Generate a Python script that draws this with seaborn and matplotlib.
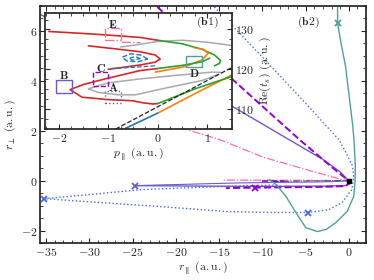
import matplotlib
matplotlib.use('Agg')
import matplotlib.pyplot as plt
import seaborn as sns
from matplotlib.ticker import MultipleLocator, FuncFormatter
from matplotlib.patches import Rectangle

# --- main panel (b2): r_par vs r_perp trajectories ---
teal_x = [-1.3, -1.3, -0.9, -0.38, 0.1, 0.45, 0.6, 0.75, 0.72, 0.57, -0.19, -1.53, -2.6, -3.6, -4.97, -6.1, -7.27, -8.4, -9.2]
teal_y = [7.3, 6.3, 5.5, 4.57, 3.2, 2.2, 1.6, 0.6, 0.0, -0.63, -1.23, -1.69, -1.95, -2.04, -1.89, -1.29, -0.63, -0.16, 0.04]

dot_x = [-16.5, -10, -5, -1.15, -0.3, 0.4, 0.57, 0.35, -0.8, -2.3, -4.7, -10, -14, -21.8, -30, -35.2, -30, -24, -15, -8]
dot_y = [7.3, 4.95, 3.1, 1.64, 1.1, 0.6, 0.16, -0.36, -0.88, -1.16, -1.28, -1.27, -1.24, -1.04, -0.85, -0.72, -0.56, -0.36, -0.24, -0.17]

slate_x = [-36.5, -25, -13.4, -6.9, -3, -1.0, -0.2, 0.1, -0.3, -3, -12.6, -24.7]
slate_y = [6.8, 4.8, 2.96, 1.64, 0.85, 0.35, 0.05, -0.12, -0.2, -0.22, -0.23, -0.2]
slate2_x = [-24.7, -12.6, -3, -0.5, 0]
slate2_y = [-0.2, -0.09, -0.05, -0.02, 0]

purple_x = [-23, -13.4, -5.7, -2, -0.4, 0.05, -0.4, -3, -8, -10.8, -14.2]
purple_y = [7.25, 4.04, 1.64, 0.55, 0.1, -0.1, -0.22, -0.25, -0.27, -0.28, -0.3]
purple2_x = [-10.0, -7.5]
purple2_y = [-0.03, -0.03]

pink_x = [-21, -18.7, -14.9, -10, -5, -0.8, 0, -5, -14.7]
pink_y = [2.3, 2.04, 1.64, 0.95, 0.45, 0.04, 0, 0.01, 0.02]

black_x = [-8.8, 0]
black_y = [-0.03, 0]

# end points (x markers)
mark_x = [-1.3, -35.2, -4.7, -24.7, -10.8]
mark_y = [6.3, -0.72, -1.28, -0.2, -0.28]
mark_c = ['#4f9e9b', '#4169e1', '#4169e1', '#6a5acd', '#9400d3']

# --- inset (b1): p_par vs Re(t_s) ---
red_top_p = [-2.2, -1.5, -1.0, -0.35, 0.0]
red_top_t = [129.5, 129.0, 128.6, 128.0, 127.3]
green_top_p = [0.0, 0.5, 0.9, 1.15, 1.27, 1.25]
green_top_t = [127.3, 126.4, 125.0, 123.6, 122.2, 121.5]
green_tail_p = [1.25, 1.12]
green_tail_t = [121.5, 120.7]
gray_top_p = [-0.75, -0.35, 0.0, 0.5, 1.0, 1.55]
gray_top_t = [125.6, 126.3, 127.0, 127.3, 126.8, 125.9]
red_mid_p = [-1.4, -0.9, -0.35, -0.05, 0.05, -0.05, -0.35, -0.7, -1.0]
red_mid_t = [125.9, 125.2, 124.4, 123.6, 122.6, 121.8, 121.1, 120.5, 120.0]
loop_p = [-0.2, -0.35, -0.55, -0.72, -0.62, -0.4, -0.2]
loop_t = [122.6, 123.6, 123.9, 123.0, 122.1, 121.9, 122.6]
loop2_p = [-0.35, -0.45, -0.58, -0.5, -0.35]
loop2_t = [122.7, 123.2, 122.8, 122.3, 122.7]
bdash_p = [-0.95, -0.5, -0.05]
bdash_t = [120.2, 120.5, 120.9]
red_big_p = [0.0, -0.35, -1.06, -1.5, -1.77, -1.53, -1.0, -0.5, -0.3, -0.1, 0.0]
red_big_t = [120.2, 119.7, 117.6, 116.2, 114.9, 113.0, 112.4, 112.1, 111.6, 111.3, 111.4]
green_mid_p = [0.0, 0.5, 0.9, 1.05]
green_mid_t = [120.2, 121.0, 121.9, 122.8]
orange_mid_p = [-0.05, 0.56, 0.9, 1.02, 0.93]
orange_mid_t = [119.3, 120.7, 122.4, 124.0, 125.0]
orange_tail_p = [0.93, 0.72]
orange_tail_t = [125.0, 125.5]
green_low_p = [0.0, 0.8, 1.5]
green_low_t = [111.4, 115.3, 118.2]
orange_low_p = [0.0, 0.8, 1.5]
orange_low_t = [109.0, 114.2, 118.6]
blue_low_p = [-0.65, 0.0]
blue_low_t = [105.2, 109.0]
kdash_p = [-0.85, 1.55]
kdash_t = [105.0, 120.8]
gray_b_p = [1.3, 1.1, 0.3, -0.35, -1.0, -1.4, -1.2, -0.8, -0.45, 0.2, 0.9, 1.2]
gray_b_t = [119.2, 119.3, 118.4, 117.6, 116.6, 115.1, 114.2, 113.6, 113.6, 115.4, 117.2, 118.6]
pink_in_p = [-0.72, -0.35]
pink_in_t = [126.8, 126.7]

box_names = ['A', 'B', 'C', 'D', 'E']
box_p0 = [-1.06, -2.05, -1.3, 0.58, -1.06]
box_p1 = [-0.74, -1.74, -1.0, 0.9, -0.74]
box_t0 = [111.6, 114.0, 115.9, 120.5, 127.4]
box_t1 = [114.5, 117.2, 119.25, 123.4, 130.25]
box_label_t = [115.4, 118.4, 120.3, 119.0, 131.3]

TEAL, BLUE, SLATE, PURPLE, PINK = '#4f9e9b', '#4169e1', '#6a5acd', '#9400d3', '#ff69b4'
RED, GREEN, ORANGE, TBLUE, GRAY = '#d62728', '#2ca02c', '#ff7f0e', '#1f77b4', '#a9a9a9'


def curve(ax, xs, ys, color, ls='-', lw=1.0, z=2):
    sns.lineplot(x=xs, y=ys, sort=False, estimator=None, color=color,
                 linestyle=ls, linewidth=lw, ax=ax, zorder=z)


def main():
    sns.set_theme(style='ticks')
    plt.rcParams['font.family'] = ['DejaVu Serif']
    plt.rcParams['mathtext.fontset'] = 'cm'
    fmt = FuncFormatter(lambda v, pos: f'${v:g}$')

    fig = plt.figure(figsize=(3.74, 2.80), dpi=100)
    ax = fig.add_axes([0.107, 0.132, 0.872, 0.847])

    curve(ax, dot_x, dot_y, BLUE, ':', 1.0)
    curve(ax, pink_x, pink_y, PINK, '-.', 0.9)
    curve(ax, black_x, black_y, '#333333', '-.', 0.7)
    curve(ax, slate_x, slate_y, SLATE, '-', 1.0)
    curve(ax, slate2_x, slate2_y, SLATE, '-', 0.8)
    curve(ax, purple_x, purple_y, PURPLE, '--', 1.4)
    curve(ax, purple2_x, purple2_y, PURPLE, '--', 1.2)
    curve(ax, teal_x, teal_y, TEAL, '-', 1.0)
    for x, y, c in zip(mark_x, mark_y, mark_c):
        ax.plot(x, y, marker='x', color=c, ms=4, mew=1.3, zorder=4)
    ax.plot(0, 0, marker='s', color='black', ms=3.2, zorder=5)

    ax.set_xlim(-35.7, 2.0)
    ax.set_ylim(-2.5, 7.0)
    ax.xaxis.set_major_locator(MultipleLocator(5))
    ax.xaxis.set_minor_locator(MultipleLocator(1))
    ax.yaxis.set_major_locator(MultipleLocator(2))
    ax.yaxis.set_minor_locator(MultipleLocator(0.5))
    ax.xaxis.set_major_formatter(fmt)
    ax.yaxis.set_major_formatter(fmt)
    ax.tick_params(which='both', direction='in', top=True, right=True, labelsize=8.5, pad=2)
    ax.tick_params(which='major', length=3.5, width=0.8)
    ax.tick_params(which='minor', length=2, width=0.6)
    ax.set_xlabel(r'$r_{\parallel}\ \mathrm{(a.u.)}$', fontsize=8.5, labelpad=1)
    ax.set_ylabel(r'$r_{\perp}\ \mathrm{(a.u.)}$', fontsize=8.5, labelpad=2)
    ax.text(0.822, 0.932, r'$\mathbf{(b2)}$', transform=ax.transAxes, fontsize=8.5,
            ha='center', va='center')

    # inset
    axi = fig.add_axes([0.120, 0.539, 0.500, 0.414])
    axi.set_facecolor('white')
    curve(axi, kdash_p, kdash_t, '#222222', '--', 0.9, 3)
    curve(axi, gray_top_p, gray_top_t, GRAY, '-', 1.1)
    curve(axi, gray_b_p, gray_b_t, GRAY, '-', 1.1)
    curve(axi, red_top_p, red_top_t, RED, '-', 1.2)
    curve(axi, green_top_p, green_top_t, GREEN, '-', 1.2)
    curve(axi, green_tail_p, green_tail_t, GREEN, '--', 1.2)
    curve(axi, red_mid_p, red_mid_t, RED, '-', 1.2)
    curve(axi, loop_p, loop_t, TBLUE, '--', 1.0)
    curve(axi, loop2_p, loop2_t, TBLUE, '--', 0.9)
    curve(axi, bdash_p, bdash_t, TBLUE, '--', 0.9)
    curve(axi, red_big_p, red_big_t, RED, '-', 1.2)
    curve(axi, orange_mid_p, orange_mid_t, ORANGE, '-', 1.2)
    curve(axi, orange_tail_p, orange_tail_t, ORANGE, '--', 1.2)
    curve(axi, green_mid_p, green_mid_t, GREEN, '-', 1.2)
    curve(axi, orange_low_p, orange_low_t, ORANGE, '-', 1.2)
    curve(axi, green_low_p, green_low_t, GREEN, '-', 1.2)
    curve(axi, blue_low_p, blue_low_t, TBLUE, '-', 1.2)
    curve(axi, pink_in_p, pink_in_t, PINK, '-.', 1.0)

    box_style = [(BLUE, ':'), (SLATE, '-'), (PURPLE, '--'), (TEAL, '-'), (PINK, '-.')]
    for name, p0, p1, t0, t1, lt, (c, ls) in zip(box_names, box_p0, box_p1, box_t0,
                                                  box_t1, box_label_t, box_style):
        axi.add_patch(Rectangle((p0, t0), p1 - p0, t1 - t0, fill=False, edgecolor=c,
                                linestyle=ls, linewidth=1.0, zorder=4))
        axi.text((p0 + p1) / 2, lt, rf'$\mathbf{{{name}}}$', fontsize=8.5,
                 ha='center', va='center', zorder=5)

    axi.set_xlim(-2.28, 1.5)
    axi.set_ylim(105, 134.1)
    axi.xaxis.set_major_locator(MultipleLocator(1))
    axi.xaxis.set_minor_locator(MultipleLocator(0.25))
    axi.yaxis.set_major_locator(MultipleLocator(10))
    axi.yaxis.set_minor_locator(MultipleLocator(2.5))
    axi.xaxis.set_major_formatter(fmt)
    axi.yaxis.set_major_formatter(fmt)
    axi.yaxis.tick_right()
    axi.yaxis.set_label_position('right')
    axi.tick_params(which='both', direction='in', top=True, left=True, right=True,
                    labelleft=False, labelright=True, labelsize=8.5, pad=2)
    axi.tick_params(which='major', length=3.5, width=0.8)
    axi.tick_params(which='minor', length=2, width=0.6)
    axi.set_xlabel(r'$p_{\parallel}\ \mathrm{(a.u.)}$', fontsize=8.5, labelpad=1)
    axi.set_ylabel(r'$\mathrm{Re}(t_s)\ \mathrm{(a.u.)}$', fontsize=8.5, labelpad=3)
    axi.text(0.866, 0.92, r'$\mathbf{(b1)}$', transform=axi.transAxes, fontsize=8.5,
             ha='center', va='center')

    fig.savefig('out.png', dpi=100)


if __name__ == '__main__':
    main()
